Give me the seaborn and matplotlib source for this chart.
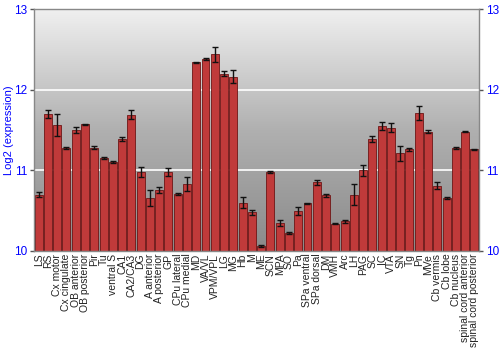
import numpy as np
import pandas as pd
import matplotlib
matplotlib.use("Agg")
import matplotlib.pyplot as plt
import seaborn as sns

regions = ["LS", "RS", "Cx motor", "Cx cingulate", "OB anterior", "OB posterior", "Pir", "Tu",
           "ventral S", "CA1", "CA2/CA3", "DG", "A anterior", "A posterior", "GP", "CPu lateral",
           "CPu medial", "MD", "VA/VL", "VPM/VPL", "LG", "MG", "Hb", "M", "ME", "SCN", "MPA", "SO",
           "Pa", "SPa ventral", "SPa dorsal", "DM", "VMH", "Arc", "LH", "PAG", "SC", "IC", "VTA",
           "SN", "Tg", "Pn", "MVe", "Cb vermis", "Cb lobe", "Cb nucleus", "spinal cord anterior",
           "spinal cord posterior"]
expression = [10.70, 11.70, 11.56, 11.28, 11.50, 11.57, 11.28, 11.15,
              11.10, 11.39, 11.69, 10.98, 10.66, 10.76, 10.98, 10.71,
              10.83, 12.34, 12.38, 12.44, 12.20, 12.16, 10.60, 10.48, 10.06, 10.98, 10.35, 10.22,
              10.50, 10.59, 10.85, 10.69, 10.34, 10.37, 10.70, 11.00, 11.39, 11.55, 11.53,
              11.21, 11.26, 11.71, 11.48, 10.81, 10.66, 11.28, 11.48,
              11.26]
errors = [0.03, 0.05, 0.14, 0.01, 0.04, 0.01, 0.02, 0.01,
          0.01, 0.02, 0.055, 0.065, 0.10, 0.035, 0.05, 0.01,
          0.085, 0.01, 0.015, 0.09, 0.03, 0.08, 0.065, 0.03, 0.01, 0.01, 0.04, 0.01,
          0.05, 0.01, 0.03, 0.02, 0.01, 0.02, 0.125, 0.065, 0.04, 0.05, 0.06,
          0.09, 0.02, 0.09, 0.02, 0.04, 0.01, 0.01, 0.01,
          0.01]
yticks = [10, 11, 12, 13]

df = pd.DataFrame({"region": regions, "expr": expression, "err": errors})

sns.set_style("white")
plt.rcParams["font.family"] = ["Liberation Sans", "DejaVu Sans"]

fig = plt.figure(figsize=(5, 3.5), dpi=100)
ax = fig.add_axes([0.068, 0.283, 0.89, 0.691])

# gradient background
grad = np.linspace(0, 1, 256).reshape(-1, 1)
cmap = matplotlib.colors.LinearSegmentedColormap.from_list("bg", ["#8a8a8a", "#b0b0b0", "#f0f0f0"])
ax.imshow(grad, extent=[-0.5, len(regions) - 0.5, 10, 13], origin="lower",
          aspect="auto", cmap=cmap, zorder=0)

for yv in [11, 12]:
    ax.axhline(yv, color="white", lw=1.2, zorder=1)

sns.barplot(data=df, x="region", y="expr", color="#c03a3a", saturation=1, width=0.86,
            edgecolor="#6e1515", linewidth=0.6, ax=ax, zorder=2)
ax.errorbar(np.arange(len(regions)), df["expr"], yerr=df["err"], fmt="none",
            ecolor="#111111", elinewidth=1, capsize=2.2, capthick=1, zorder=3)

ax.set_xlim(-0.5, len(regions) - 0.5)
ax.set_ylim(10, 13)
ax.set_yticks(yticks)
ax.set_yticklabels([str(t) for t in yticks])
ax.set_xlabel("")
ax.set_ylabel("Log2 (expression)", color="blue", fontsize=8)
ax.yaxis.set_label_coords(-0.045, 0.5)
ax.tick_params(axis="y", colors="blue", labelsize=8.5, left=True, right=True,
               labelright=True, length=3, width=1, direction="out", pad=2)
ax.tick_params(axis="y", which="both", color="#555555")
ax.tick_params(axis="x", labelsize=7.5, rotation=90, length=0, pad=2)
for lbl in ax.get_xticklabels():
    lbl.set_color("#222222")
for s in ax.spines.values():
    s.set_color("#888888")
    s.set_linewidth(1)

fig.savefig("out.png", dpi=100)
